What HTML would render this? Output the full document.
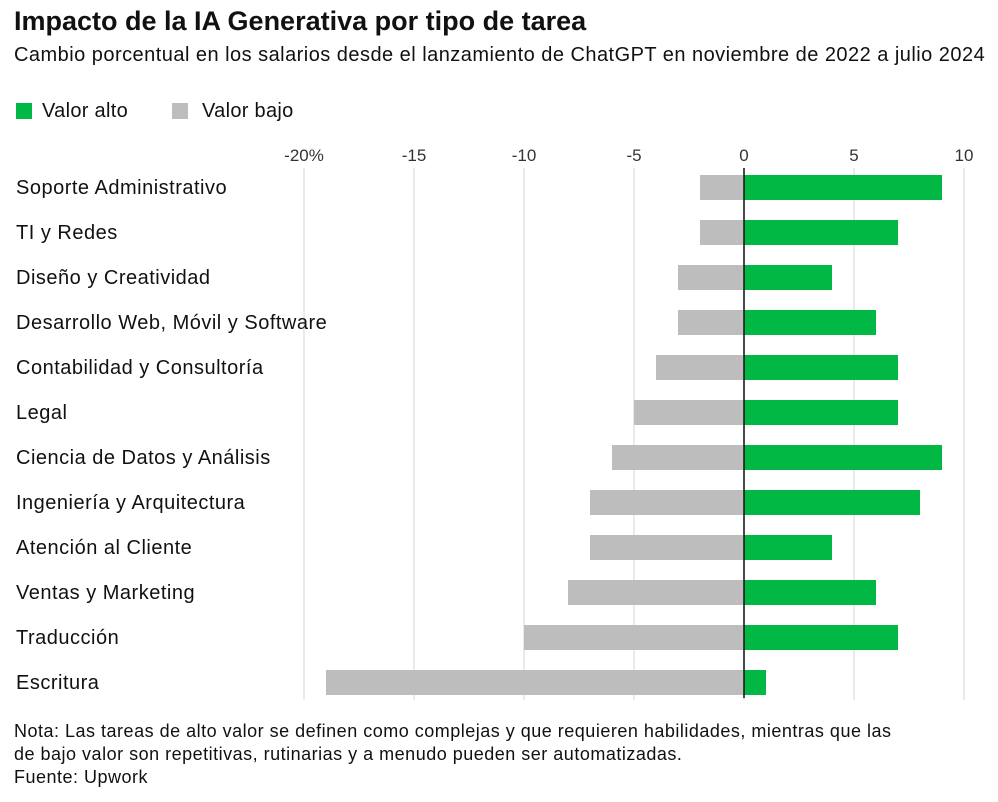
<!DOCTYPE html>
<html><head><meta charset="utf-8"><style>
body{margin:0;background:#fff;font-family:"Liberation Sans",sans-serif;color:#111;}
#wrap{position:relative;width:998px;height:802px;overflow:hidden;}
.t{position:absolute;white-space:nowrap;}
</style></head><body>
<div id="wrap">
<div class="t" style="left:14px;top:6px;font-size:27px;font-weight:bold;letter-spacing:0px">Impacto de la IA Generativa por tipo de tarea</div>
<div class="t" style="left:14px;top:44px;font-size:20px;letter-spacing:0.47px">Cambio porcentual en los salarios desde el lanzamiento de ChatGPT en noviembre de 2022 a julio 2024</div>
<div class="t" style="left:16px;top:100px;font-size:20px;letter-spacing:0.3px"><span style="display:inline-block;width:16px;height:16px;background:#00b843;vertical-align:-2px;margin-right:10px"></span>Valor alto</div>
<div class="t" style="left:172px;top:100px;font-size:20px;letter-spacing:0.3px"><span style="display:inline-block;width:16px;height:16px;background:#bdbdbd;vertical-align:-2px;margin-right:14px"></span>Valor bajo</div>
<svg id="chart" width="998" height="802" style="position:absolute;left:0;top:0"></svg>
<div class="t" style="left:14px;top:720px;font-size:18px;line-height:23px;letter-spacing:0.5px">Nota: Las tareas de alto valor se definen como complejas y que requieren habilidades, mientras que las<br>de bajo valor son repetitivas, rutinarias y a menudo pueden ser automatizadas.<br>Fuente: Upwork</div>
</div>
<script>
const categories=["Soporte Administrativo","TI y Redes","Diseño y Creatividad","Desarrollo Web, Móvil y Software","Contabilidad y Consultoría","Legal","Ciencia de Datos y Análisis","Ingeniería y Arquitectura","Atención al Cliente","Ventas y Marketing","Traducción","Escritura"];
const highValues=[9,7,4,6,7,7,9,8,4,6,7,1];
const lowValues=[-2,-2,-3,-3,-4,-5,-6,-7,-7,-8,-10,-19];
const ticks=[-20,-15,-10,-5,0,5,10];
const tickLabels=["-20%","-15","-10","-5","0","5","10"];
const NS="http://www.w3.org/2000/svg";
const svg=document.getElementById('chart');
const x=v=>744+v*22;
const y=i=>187+i*45;
function mk(tag,attrs){const e=document.createElementNS(NS,tag);for(const k in attrs)e.setAttribute(k,attrs[k]);svg.appendChild(e);return e;}
ticks.forEach((t,i)=>{
  const g=mk('line',{x1:x(t),x2:x(t),y1:168,y2:700,stroke:'#e3e3e3','stroke-width':1.5});
  
  
  const l=mk('text',{x:x(t),y:161,'text-anchor':'middle','font-size':17,fill:'#333','font-family':'Liberation Sans, sans-serif'});
  l.textContent=tickLabels[i];
  
  
});
categories.forEach((c,i)=>{
  const lab=mk('text',{x:16,y:y(i)+7,'font-size':20,'letter-spacing':0.5,fill:'#111','font-family':'Liberation Sans, sans-serif'});
  lab.textContent=c;
  
  
  const lo=mk('rect',{x:x(lowValues[i]),y:y(i)-12,width:x(0)-x(lowValues[i]),height:25,fill:'#bdbdbd'});
  
  
  const hi=mk('rect',{x:x(0),y:y(i)-12,width:x(highValues[i])-x(0),height:25,fill:'#00b843'});
  
  
});
const z=mk('line',{x1:x(0),x2:x(0),y1:168,y2:698,stroke:'#111','stroke-width':1.5});


</script>
</body></html>
